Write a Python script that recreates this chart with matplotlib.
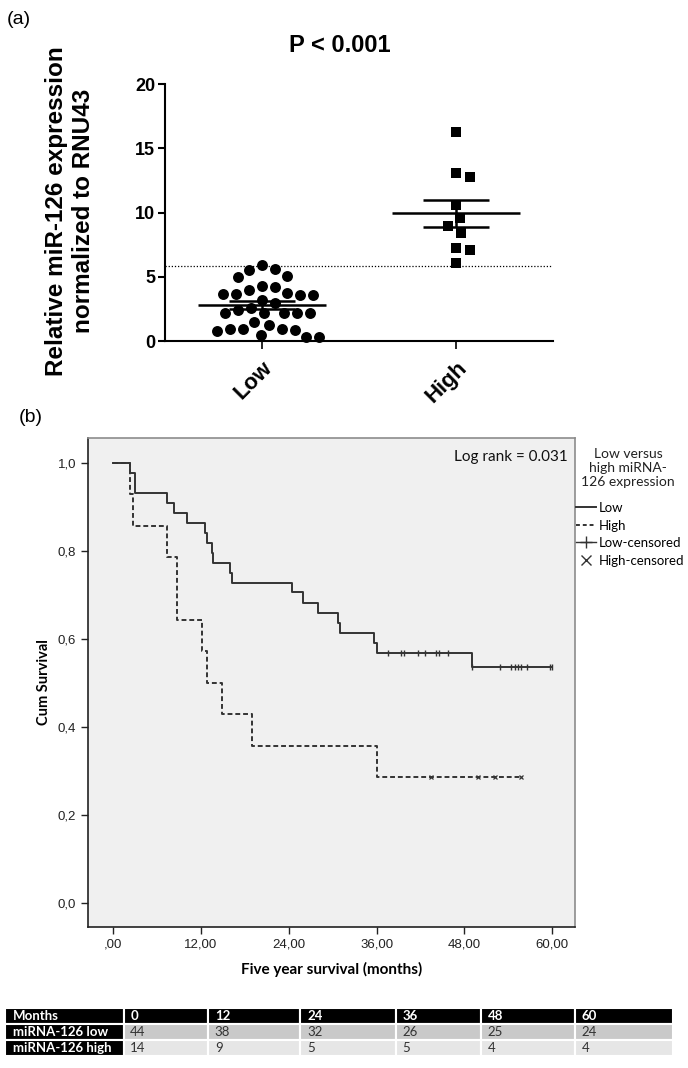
import numpy as np
import matplotlib
matplotlib.use('Agg')
import matplotlib.pyplot as plt
from matplotlib.lines import Line2D

# ---- panel (a): relative miR-126 expression ----
groups = ['Low', 'High']
low_vals = [5.9, 5.58, 5.55, 5.06, 4.98, 4.25, 4.23, 3.97, 3.7, 3.65, 3.6, 3.65, 3.6,
            3.2, 2.93, 2.6, 2.41, 2.2, 2.15, 2.2, 2.15, 2.15, 1.5, 1.25, 0.95, 0.9,
            0.9, 0.85, 0.8, 0.45, 0.3, 0.35]
high_vals = [16.3, 13.05, 12.75, 10.6, 9.55, 8.95, 8.4, 7.2, 7.05, 6.05]
low_mean, low_sem = 2.78, 0.3
high_mean, high_sem = 9.93, 1.04
cutoff = 5.86

# ---- panel (b): Kaplan-Meier ----
low_t = [0, 2.3, 3.0, 7.4, 8.4, 10.1, 12.6, 12.8, 13.5, 13.7, 16.0, 16.2, 24.4, 26.0,
         28.0, 30.7, 31.0, 35.6, 36.1, 49.0, 60.0]
low_s = [1.0, 0.977, 0.932, 0.909, 0.886, 0.864, 0.841, 0.818, 0.795, 0.773, 0.750,
         0.727, 0.705, 0.682, 0.659, 0.636, 0.614, 0.591, 0.568, 0.535, 0.535]
low_cens = [37.6, 39.3, 39.7, 41.7, 42.6, 44.1, 44.5, 45.8, 49.1, 52.9, 54.4, 54.9,
            55.3, 55.7, 56.6, 59.7, 60.0]
high_t = [0, 2.3, 2.8, 7.4, 8.8, 12.2, 12.8, 14.9, 19.0, 36.1, 55.7]
high_s = [1.0, 0.929, 0.857, 0.786, 0.643, 0.571, 0.5, 0.429, 0.357, 0.286, 0.286]
high_cens = [43.5, 49.9, 52.2, 55.7]

# ---- numbers at risk ----
months = ['0', '12', '24', '36', '48', '60']
risk_low = [44, 38, 32, 26, 25, 24]
risk_high = [14, 9, 5, 5, 4, 4]

W, H = 688, 1068
fig = plt.figure(figsize=(W / 100, H / 100), dpi=100)


def box(l, t, r, b):
    return [l / W, 1 - b / H, (r - l) / W, (b - t) / H]


def swarm(ax, x0, vals, diam):
    # simple beeswarm: shift each point sideways until it does not overlap
    pts = ax.transData.transform([(x0, v) for v in vals])
    placed = []
    for px, py in pts:
        for k in range(400):
            off = ((k + 1) // 2) * (1 if k % 2 == 1 else -1)
            cx = px + off
            if all((cx - qx) ** 2 + (py - qy) ** 2 >= diam ** 2 for qx, qy in placed):
                break
        placed.append((cx, py))
    return ax.transData.inverted().transform(placed)[:, 0]


arial = ['Liberation Sans', 'DejaVu Sans']
calib = ['Lato', 'DejaVu Sans']

# ===== panel (a) =====
ax1 = fig.add_axes(box(165, 84, 553, 341))
ax1.set_xlim(-0.5, 1.5)
ax1.set_ylim(0, 20)
for s in ['top', 'right']:
    ax1.spines[s].set_visible(False)
for s in ['left', 'bottom']:
    ax1.spines[s].set_linewidth(1.5)

ax1.axhline(cutoff, color='k', lw=0.9, ls=(0, (1, 1.5)), zorder=1)

xs_low = swarm(ax1, 0, low_vals, 13)
xs_high = swarm(ax1, 1, high_vals, 14)
ax1.scatter(xs_low, low_vals, s=62, color='k', marker='o', lw=0, zorder=3, clip_on=False)
ax1.scatter(xs_high, high_vals, s=62, color='k', marker='s', lw=0, zorder=3, clip_on=False)

for x0, m, se in [(0, low_mean, low_sem), (1, high_mean, high_sem)]:
    ax1.hlines(m, x0 - 0.332, x0 + 0.332, color='k', lw=1.8, zorder=4)
    ax1.hlines([m - se, m + se], x0 - 0.171, x0 + 0.171, color='k', lw=1.8, zorder=4)
    ax1.vlines(x0, m - se, m + se, color='k', lw=1.8, zorder=4)

ax1.set_yticks([0, 5, 10, 15, 20])
ax1.tick_params(axis='y', length=5, width=1.5, pad=2, labelsize=13)
ax1.set_xticks([0, 1])
ax1.set_xticklabels(groups, rotation=45, ha='right', rotation_mode='anchor')
ax1.tick_params(axis='x', length=6, width=1.2, pad=6, labelsize=16)
for lab in ax1.get_xticklabels() + ax1.get_yticklabels():
    lab.set_fontweight('bold')
    lab.set_family(arial)

fig.text(340 / W, 1 - 45 / H, 'P < 0.001', ha='center', va='center',
         fontsize=17, fontweight='bold', family=arial)
fig.text(70 / W, 1 - 211 / H, 'Relative miR-126 expression\nnormalized to RNU43',
         rotation=90, ha='center', va='center', multialignment='center',
         fontsize=17.5, fontweight='bold', family=arial, linespacing=1.2)
fig.text(7 / W, 1 - 19 / H, '(a)', va='center', fontsize=14, family=arial)

# ===== panel (b) =====
ax2 = fig.add_axes(box(88, 438, 575, 927))
ax2.set_facecolor('#f0f0f0')
ax2.set_xlim(-3.4, 63.1)
ax2.set_ylim(-0.055, 1.056)
for s in ['top', 'right']:
    ax2.spines[s].set_color('#8c8c8c')
    ax2.spines[s].set_linewidth(1.2)
for s in ['left', 'bottom']:
    ax2.spines[s].set_color('#222222')
    ax2.spines[s].set_linewidth(1.2)

lc = '#333333'
ax2.step(low_t, low_s, where='post', color=lc, lw=1.4)
ax2.step(high_t, high_s, where='post', color=lc, lw=1.4, ls=(0, (2.5, 1.5)))

low_cs = np.array(low_s)[np.searchsorted(low_t, low_cens, side='right') - 1]
high_cs = np.array(high_s)[np.searchsorted(high_t, high_cens, side='right') - 1]
ax2.plot(low_cens, low_cs, ls='none', marker='|', ms=5, mew=1, color=lc, clip_on=False)
ax2.plot(high_cens, high_cs, ls='none', marker='x', ms=3.5, mew=0.9, color=lc, clip_on=False)

ax2.set_xticks([0, 12, 24, 36, 48, 60])
ax2.set_xticklabels([',00', '12,00', '24,00', '36,00', '48,00', '60,00'])
ax2.set_yticks([0, 0.2, 0.4, 0.6, 0.8, 1.0])
ax2.set_yticklabels(['0,0', '0,2', '0,4', '0,6', '0,8', '1,0'])
ax2.tick_params(length=5, width=1, color='#222222', labelsize=9.5, labelcolor='#222222')
for lab in ax2.get_xticklabels() + ax2.get_yticklabels():
    lab.set_family(arial)
ax2.set_xlabel('Five year survival (months)', fontsize=11, fontweight='bold',
               family=calib, labelpad=8)
ax2.set_ylabel('Cum Survival', fontsize=10.5, fontweight='bold', family=calib, labelpad=5)
ax2.text(0.985, 0.975, 'Log rank = 0.031', transform=ax2.transAxes, ha='right', va='top',
         fontsize=11, family=calib, color='#111111')

fig.text(19 / W, 1 - 418 / H, '(b)', va='center', fontsize=14, family=arial)

# legend to the right of the plot
fig.text(628 / W, 1 - 468 / H, 'Low versus\nhigh miRNA-\n126 expression', ha='center',
         va='center', fontsize=10, family=calib, linespacing=1.15, color='#222222')
handles = [Line2D([], [], color=lc, lw=1.4),
           Line2D([], [], color=lc, lw=1.4, ls=(0, (2, 1.5))),
           Line2D([], [], color=lc, lw=1, marker='+', ms=8),
           Line2D([], [], color=lc, lw=0, marker='x', ms=7)]
fig.legend(handles, ['Low', 'High', 'Low-censored', 'High-censored'], loc='upper left',
           bbox_to_anchor=(576 / W, 1 - 502 / H), frameon=False, handlelength=1.5,
           handletextpad=0.2, labelspacing=0.42, borderaxespad=0, borderpad=0,
           prop={'family': calib, 'size': 9.5})

# ===== numbers-at-risk table =====
ax3 = fig.add_axes(box(4.5, 1008, 673, 1056))
ax3.axis('off')
cells = [['Months'] + months,
         ['miRNA-126 low'] + [str(v) for v in risk_low],
         ['miRNA-126 high'] + [str(v) for v in risk_high]]
widths = np.array([120, 84, 92, 96, 85, 94, 98], dtype=float)
tab = ax3.table(cellText=cells, colWidths=list(widths / widths.sum()), cellLoc='left',
                bbox=[0, 0, 1, 1])
tab.auto_set_font_size(False)
tab.set_fontsize(9.5)
row_bg = {1: '#c9c9c9', 2: '#e6e6e6'}
for (r, c), cell in tab.get_celld().items():
    cell.set_edgecolor('white')
    cell.set_linewidth(1.5)
    cell.PAD = 0.07
    txt = cell.get_text()
    txt.set_family(calib)
    if r == 0 or c == 0:
        cell.set_facecolor('black')
        txt.set_color('white')
        txt.set_fontweight('bold')
    else:
        cell.set_facecolor(row_bg[r])
        txt.set_color('#333333')

fig.savefig('out.png', dpi=100)
